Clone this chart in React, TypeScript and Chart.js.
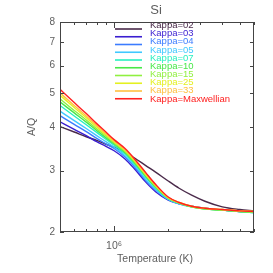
import React, { useEffect, useRef } from "react";
import { Chart, registerables } from "chart.js";
Chart.register(...registerables);

const temperatures = [5e5, 6e5, 7e5, 8e5, 9e5, 1e6, 1.15e6, 1.3e6, 1.5e6, 1.7e6, 2e6, 2.3e6, 2.7e6, 3.2e6, 4e6, 5e6, 6e6];
const kappa02 = [4.01, 3.87, 3.75, 3.66, 3.57, 3.50, 3.38, 3.26, 3.10, 2.97, 2.80, 2.67, 2.55, 2.45, 2.36, 2.32, 2.30];
const kappa03 = [4.14, 3.94, 3.78, 3.63, 3.52, 3.42, 3.24, 3.03, 2.78, 2.61, 2.47, 2.41, 2.37, 2.34, 2.31, 2.29, 2.28];
const kappa04 = [4.31, 4.07, 3.88, 3.71, 3.58, 3.47, 3.28, 3.07, 2.81, 2.64, 2.48, 2.41, 2.37, 2.34, 2.31, 2.29, 2.28];
const kappa05 = [4.44, 4.17, 3.96, 3.78, 3.63, 3.50, 3.31, 3.10, 2.83, 2.65, 2.48, 2.41, 2.36, 2.33, 2.31, 2.29, 2.27];
const kappa07 = [4.61, 4.30, 4.06, 3.86, 3.69, 3.55, 3.35, 3.13, 2.87, 2.68, 2.49, 2.42, 2.36, 2.33, 2.31, 2.29, 2.27];
const kappa10 = [4.72, 4.39, 4.13, 3.91, 3.73, 3.58, 3.38, 3.16, 2.89, 2.69, 2.50, 2.42, 2.36, 2.33, 2.31, 2.29, 2.28];
const kappa15 = [4.82, 4.46, 4.19, 3.95, 3.77, 3.60, 3.40, 3.18, 2.91, 2.70, 2.50, 2.42, 2.36, 2.33, 2.31, 2.29, 2.28];
const kappa25 = [4.93, 4.55, 4.25, 4.00, 3.80, 3.63, 3.43, 3.20, 2.92, 2.72, 2.51, 2.43, 2.37, 2.34, 2.32, 2.30, 2.29];
const kappa33 = [5.01, 4.61, 4.30, 4.04, 3.83, 3.65, 3.44, 3.22, 2.94, 2.73, 2.51, 2.43, 2.37, 2.34, 2.32, 2.30, 2.29];
const kappaMax = [5.13, 4.70, 4.37, 4.09, 3.87, 3.68, 3.47, 3.24, 2.96, 2.74, 2.52, 2.43, 2.37, 2.34, 2.32, 2.30, 2.29];

const seriesLabels = ["Kappa=02", "Kappa=03", "Kappa=04", "Kappa=05", "Kappa=07", "Kappa=10", "Kappa=15", "Kappa=25", "Kappa=33", "Kappa=Maxwellian"];
const seriesValues = [kappa02, kappa03, kappa04, kappa05, kappa07, kappa10, kappa15, kappa25, kappa33, kappaMax];
const seriesColors = ["#4a2a4a", "#3a1ed0", "#3c7cff", "#40c8ff", "#28f0c0", "#48e848", "#90f040", "#e4f020", "#ffc040", "#ff2020"];

const yTickValues = [2, 3, 4, 5, 6, 7, 8];
const xMajorTicks = [1e6];
const xMinorTicks = [5e5, 6e5, 7e5, 8e5, 9e5, 2e6, 3e6, 4e6, 5e6, 6e6];

const titleText = "Si";
const xTitle = "Temperature (K)";
const yTitle = "A/Q";

const FONT = "'Liberation Sans', Arial, sans-serif";
const TEXT_COLOR = "#5e5e5e";
const AXIS_COLOR = "#444444";

const decorPlugin = {
  id: "decor",
  afterDraw(chart: any) {
    const { ctx, chartArea } = chart;
    const xs = chart.scales.x;
    const ys = chart.scales.y;
    const { left, right, top, bottom } = chartArea;
    ctx.save();
    ctx.strokeStyle = AXIS_COLOR;
    ctx.lineWidth = 1;
    ctx.strokeRect(left + 0.5, top + 0.5, right - left - 1, bottom - top - 1);
    ctx.beginPath();
    for (const v of xMinorTicks) {
      const px = Math.round(xs.getPixelForValue(v)) + 0.5;
      ctx.moveTo(px, bottom); ctx.lineTo(px, bottom - 3);
      ctx.moveTo(px, top); ctx.lineTo(px, top + 3);
    }
    for (const v of xMajorTicks) {
      const px = Math.round(xs.getPixelForValue(v)) + 0.5;
      ctx.moveTo(px, bottom); ctx.lineTo(px, bottom - 6);
      ctx.moveTo(px, top); ctx.lineTo(px, top + 6);
    }
    for (const v of yTickValues) {
      const py = Math.round(ys.getPixelForValue(v)) + 0.5;
      ctx.moveTo(left, py); ctx.lineTo(left + 4, py);
      ctx.moveTo(right, py); ctx.lineTo(right - 4, py);
    }
    ctx.stroke();

    ctx.fillStyle = TEXT_COLOR;
    ctx.textAlign = "center";
    ctx.textBaseline = "middle";
    ctx.font = `13px ${FONT}`;
    ctx.fillText(titleText, (left + right) / 2 - 1, 10);
    ctx.font = `10.5px ${FONT}`;
    ctx.fillText(xTitle, (left + right) / 2 - 2, 259);
    ctx.save();
    ctx.translate(32, (top + bottom) / 2);
    ctx.rotate(-Math.PI / 2);
    ctx.fillText(yTitle, 0, 0);
    ctx.restore();

    ctx.font = `9.5px ${FONT}`;
    ctx.textAlign = "left";
    chart.data.datasets.forEach((ds: any, i: number) => {
      const ly = 29 + 7.75 * i;
      const ty = 25.5 + 8.17 * i;
      ctx.strokeStyle = ds.borderColor;
      ctx.lineWidth = 1.6;
      ctx.beginPath();
      ctx.moveTo(115, ly);
      ctx.lineTo(142, ly);
      ctx.stroke();
      ctx.fillStyle = ds.borderColor;
      ctx.fillText(ds.label, 150, ty);
    });
    ctx.restore();
  },
};

export default function App() {
  const ref = useRef<HTMLCanvasElement | null>(null);
  useEffect(() => {
    if (!ref.current) return;
    const datasets = seriesValues.map((vals, i) => ({
      label: seriesLabels[i],
      data: temperatures.map((t, j) => ({ x: t, y: vals[j] })),
      borderColor: seriesColors[i],
      backgroundColor: seriesColors[i],
      borderWidth: 1.4,
      pointRadius: 0,
      cubicInterpolationMode: "monotone" as const,
      order: 9 - i,
    }));
    const chart = new Chart(ref.current, {
      type: "line",
      data: { datasets },
      options: {
        animation: false,
        responsive: false,
        maintainAspectRatio: false,
        layout: { padding: { left: 0, right: 19, top: 22, bottom: 0 } },
        plugins: { legend: { display: false }, tooltip: { enabled: false }, title: { display: false } },
        scales: {
          x: {
            type: "logarithmic",
            min: 5e5,
            max: 6e6,
            grid: { display: false, drawTicks: false },
            border: { display: false },
            afterBuildTicks: (s: any) => { s.ticks = xMajorTicks.map((v) => ({ value: v })); },
            afterFit: (s: any) => { s.height = 41; },
            ticks: {
              autoSkip: false,
              maxRotation: 0,
              padding: 8,
              color: TEXT_COLOR,
              font: { family: FONT, size: 10.5 },
              callback: () => "10\u2076",
            },
          },
          y: {
            type: "logarithmic",
            min: 2,
            max: 8,
            grid: { display: false, drawTicks: false },
            border: { display: false },
            afterBuildTicks: (s: any) => { s.ticks = yTickValues.map((v) => ({ value: v })); },
            afterFit: (s: any) => { s.width = 60; },
            ticks: {
              autoSkip: false,
              padding: 5,
              color: TEXT_COLOR,
              font: { family: FONT, size: 10 },
              callback: (v: any) => String(v),
            },
          },
        },
      },
      plugins: [decorPlugin],
    });
    return () => chart.destroy();
  }, []);
  return (
    <div style={{ position: "fixed", left: 0, top: 0, width: 273, height: 273, background: "#fff" }}>
      <canvas ref={ref} width={273} height={273} style={{ width: 273, height: 273 }} />
    </div>
  );
}
